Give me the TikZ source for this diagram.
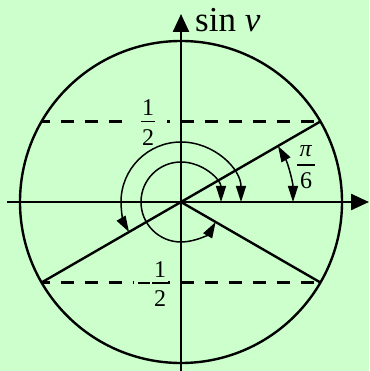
\documentclass[tikz,border=0pt]{standalone}
\usepackage{fontspec}
\setmainfont{Liberation Serif}
\usetikzlibrary{arrows.meta}
\definecolor{bg}{RGB}{204,255,204}
\begin{document}
\begin{tikzpicture}[x=1pt,y=1pt,
  thickline/.style={line width=2.4pt},
  arcline/.style={line width=1.5pt, {Triangle[length=16pt,width=10pt]}-{Triangle[length=16pt,width=10pt]}},
  axisline/.style={line width=2.4pt, -{Triangle[length=18pt,width=16pt]}},
  dashline/.style={line width=2.4pt, dash pattern=on 13pt off 11pt, dash phase=5pt},
  digit/.style={font=\fontsize{24}{24}\selectfont, inner sep=0pt},
  fracbar/.style={line width=1.5pt}]
\fill[bg] (-181,-169) rectangle (188,202);
\useasboundingbox (-181,-169) rectangle (188,202);
\coordinate (O) at (0,0);
\coordinate (A) at (30:161);
\coordinate (B) at (210:161);
\coordinate (C) at (-30:161);
\coordinate (D) at (150:161);
\coordinate (xl) at (-174,0);
\coordinate (xr) at (188,0);
\coordinate (yb) at (0,-169);
\coordinate (yt) at (0,188);
% circle
\draw[thickline] (O) circle[radius=161];
% dashed lines
\draw[dashline] (D) -- (A);
\draw[dashline] (B) -- (C);
% axes
\draw[axisline] (xl) -- (xr);
\draw[axisline] (yb) -- (yt);
% radial lines
\draw[thickline] (B) -- (A);
\draw[thickline] (O) -- (C);
% arcs
\draw[arcline] (0:112) arc[start angle=0,end angle=30,radius=112];
\draw[arcline] (0:60) arc[start angle=0,end angle=210,radius=60];
\draw[arcline] (0:40) arc[start angle=0,end angle=330,radius=40];
% axis label
\node[anchor=base west, font=\fontsize{35}{35}\selectfont, inner sep=0pt] (lab) at (14,170) {sin \textit{v}};
% fraction 1/2
\fill[bg] (-59,78) rectangle (-14,83);
\draw[fracbar] (-40,80.5) coordinate (t1) -- (-26,80.5) coordinate (t2);
\node[digit] (tn) at (-33,94) {1};
\node[digit] (td) at (-33,64) {2};
% fraction -1/2
\fill[bg] (-47,-83.5) rectangle (-13,-78.5);
\draw[fracbar] (-43,-81) coordinate (m1) -- (-31,-81) coordinate (m2);
\draw[fracbar] (-29,-81) coordinate (b1) -- (-13,-81) coordinate (b2);
\node[digit] (bn) at (-21,-68) {1};
\node[digit] (bd) at (-21,-97) {2};
% fraction pi/6
\draw[fracbar] (116,37) coordinate (p1) -- (134,37) coordinate (p2);
\node[digit] (pn) at (125,51) {\textit{π}};
\node[digit] (pd) at (125,21) {6};
\end{tikzpicture}
\end{document}
